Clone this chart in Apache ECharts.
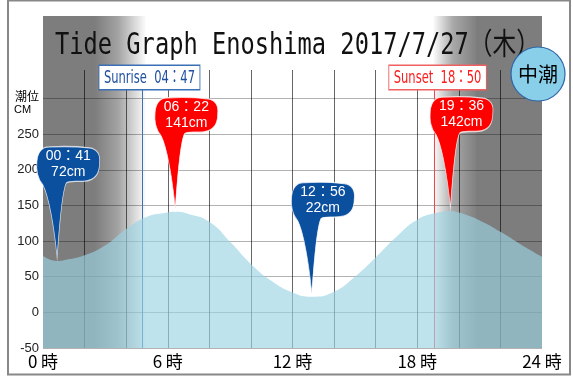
<!DOCTYPE html>
<html>
<head>
<meta charset="utf-8">
<title>Tide Graph Enoshima</title>
<script src="https://cdn.jsdelivr.net/npm/echarts@6/dist/echarts.min.js"></script>
<style>
  html, body { margin: 0; padding: 0; background: #fff; }
  #chart { width: 573px; height: 376px; }
</style>
</head>
<body>
<div id="chart"></div>
<script>
// tide curve (hour of day, cm)
const curveHours = [0, 0.683, 1, 2, 3, 4, 5, 6, 6.367, 7, 8, 9, 10, 11, 12, 12.933, 14, 15, 16, 17, 18, 19, 19.6, 20, 21, 22, 23, 24];
const curveLevels = [79, 72, 73, 80, 94, 117, 134, 140, 141, 138, 127, 99, 68, 44, 28, 22, 29, 50, 77, 106, 130, 140, 142, 140, 129, 113, 95, 78];

// high / low tide callouts
const extremeTimes = ['00:41', '06:22', '12:56', '19:36'];
const extremeLevels = [72, 141, 22, 142];
const extremeKinds = ['low', 'high', 'low', 'high'];

const sunrise = '04:47';
const sunset = '18:50';

const xTickHours = [0, 6, 12, 18, 24];
const xTickLabels = ['0 時', '6 時', '12 時', '18 時', '24 時'];
const yTickValues = [-50, 0, 50, 100, 150, 200, 250];

const titleText = 'Tide Graph Enoshima 2017/7/27（木）';
const tideName = '中潮';

const toHour = (s) => {
  const [h, m] = s.split(':').map(Number);
  return h + m / 60;
};
const wide = (s) => s.replace(':', '：');

const sunriseH = toHour(sunrise);
const sunsetH = toHour(sunset);

const GRAY = '#7d7d7d';
const grad = (from, mid, to) => new echarts.graphic.LinearGradient(0, 0, 1, 0, [
  { offset: 0, color: from },
  { offset: 0.45, color: mid },
  { offset: 1, color: to },
]);

const VLINE = 'rgba(0,0,0,0.6)';
const NONE = 'rgba(0,0,0,0)';
// first / last vertical line hidden (plot edges)
const vColors = [NONE, VLINE, VLINE, VLINE, VLINE, VLINE, VLINE, VLINE, VLINE, VLINE, VLINE, VLINE, NONE];

// 吹き出し (bubble + tail), tip at (20,110)
const bubblePath = 'path://M12 0 C28 -1 44 0 52 1 C60 2 63 8 62 16 C62 26 58 33 48 34 ' +
  'C40 35 32 33 29 36 C25 44 22 80 20 110 C17 80 12 50 6 38 C1 32 -1 24 0 14 C1 4 6 0 12 0 Z';

const chart = echarts.init(document.getElementById('chart'));

const options = {
  animation: false,
  backgroundColor: '#fff',
  grid: [
    { left: 43, right: 31, top: 16, bottom: 28 },
    { left: 43, right: 31, top: 70, bottom: 28 },
  ],
  xAxis: [
    { gridIndex: 0, type: 'value', min: 0, max: 24, show: false },
    {
      gridIndex: 1,
      type: 'value',
      min: 0,
      max: 24,
      interval: 2,
      zlevel: 1,
      axisLine: { show: false },
      axisTick: { show: false },
      splitLine: {
        show: true,
        lineStyle: { color: vColors, width: 1 },
      },
      axisLabel: {
        margin: 5,
        fontSize: 17,
        color: '#000',
        fontFamily: '"Noto Sans CJK JP"',
        formatter: (v) => {
          const i = xTickHours.indexOf(v);
          return i >= 0 ? xTickLabels[i] : '';
        },
      },
    },
  ],
  yAxis: [
    { gridIndex: 0, type: 'value', min: 0, max: 1, show: false },
    {
      gridIndex: 1,
      type: 'value',
      min: -50,
      max: 340,
      interval: 50,
      zlevel: 1,
      axisLine: { show: false },
      axisTick: { show: false },
      splitLine: {
        show: true,
        showMaxLine: false,
        lineStyle: { color: 'rgba(0,0,0,0.3)', width: 1 },
      },
      axisLabel: {
        margin: 4,
        fontSize: 13,
        color: '#222',
        fontFamily: '"Liberation Sans", Arial',
        formatter: (v) => {
          if (yTickValues.includes(v)) return String(v);
          if (v === 300) return '{u|潮位}\n{c|CM}';
          return '';
        },
        rich: {
          u: { fontSize: 12, lineHeight: 22, verticalAlign: 'bottom', color: '#000', fontFamily: '"Noto Sans CJK JP"' },
          c: { fontSize: 11, lineHeight: 14, color: '#000', width: 25, align: 'left', fontFamily: '"Liberation Sans"' },
        },
      },
    },
  ],
  series: [
    {
      // day / night background
      name: 'bg',
      type: 'line',
      xAxisIndex: 0,
      yAxisIndex: 0,
      data: [[0, 0]],
      symbol: 'none',
      silent: true,
      lineStyle: { opacity: 0 },
      zlevel: 0,
      markArea: {
        silent: true,
        zlevel: 0,
        itemStyle: { opacity: 1 },
        data: [
          [{ xAxis: 0, itemStyle: { color: GRAY } }, { xAxis: sunriseH - 2.2 }],
          [{ xAxis: sunriseH - 2.3, itemStyle: { color: grad(GRAY, '#a3a3a3', '#ffffff') } }, { xAxis: sunriseH + 0.2 }],
          [{ xAxis: sunsetH - 0.1, itemStyle: { color: grad('#ffffff', '#a8a8a8', GRAY) } }, { xAxis: sunsetH + 2.1 }],
          [{ xAxis: sunsetH + 2.0, itemStyle: { color: GRAY } }, { xAxis: 24 }],
        ],
      },
    },
    {
      name: '潮位',
      type: 'line',
      xAxisIndex: 1,
      yAxisIndex: 1,
      data: curveHours.map((h, i) => [h, curveLevels[i]]),
      smooth: 0.5,
      symbol: 'none',
      lineStyle: { width: 0 },
      areaStyle: { color: 'rgba(155,212,228,0.65)', origin: 'start', opacity: 1 },
      zlevel: 1,
      z: 2,
      markLine: {
        silent: true,
        zlevel: 1,
        z: 1,
        symbol: ['none', 'none'],
        label: { show: false },
        data: [
          [
            { coord: [sunriseH, -50], lineStyle: { color: '#3b6fb6', width: 1, type: 'solid' } },
            { coord: [sunriseH, 312] },
          ],
          [
            { coord: [sunsetH, -50], lineStyle: { color: '#f04848', width: 1, type: 'solid' } },
            { coord: [sunsetH, 312] },
          ],
        ],
      },
      markPoint: {
        zlevel: 1,
        z: 6,
        symbol: bubblePath,
        symbolSize: [63, 111],
        symbolOffset: [11, -59],
        symbolKeepAspect: false,
        itemStyle: { borderColor: 'rgba(255,255,255,0.75)', borderWidth: 1 },
        label: {
          show: true,
          position: 'inside',
          offset: [0, -38],
          color: '#fff',
          fontSize: 14,
          lineHeight: 16,
          fontFamily: '"Liberation Sans", Arial, "Noto Sans CJK JP"',
          formatter: (p) => p.name + '\n' + p.value + 'cm',
        },
        data: extremeTimes.map((t, i) => ({
          name: wide(t),
          value: extremeLevels[i],
          coord: [toHour(t), extremeLevels[i]],
          itemStyle: { color: extremeKinds[i] === 'high' ? '#ff0000' : '#0b4f9f' },
        })),
      },
    },
  ],
};

chart.setOption(options);

// sunrise / sunset boxes sit on top of their lines
const sunBox = (hour, shift, text, color, border) => {
  const px = chart.convertToPixel({ xAxisIndex: 1 }, hour);
  return {
    type: 'text',
    zlevel: 2,
    x: px + shift,
    y: 89,
    scaleX: 0.64,
    silent: true,
    style: {
      text: text,
      font: '18px "DejaVu Sans", "Noto Sans CJK JP"',
      fill: color,
      textAlign: 'center',
      textVerticalAlign: 'bottom',
      backgroundColor: '#fff',
      borderColor: border,
      borderWidth: 1.4,
      padding: [3, 7, 2, 7],
    },
  };
};

chart.setOption({
  graphic: [
    {
      type: 'rect',
      zlevel: 2,
      silent: true,
      shape: { x: 8, y: 0.5, width: 562, height: 374 },
      style: { fill: 'none', stroke: '#888', lineWidth: 2 },
    },
    {
      type: 'text',
      zlevel: 2,
      x: 55,
      y: 46,
      scaleX: 0.79,
      silent: true,
      style: {
        text: titleText,
        font: '30px "DejaVu Sans Mono", "Noto Sans CJK JP"',
        fill: '#111',
        textAlign: 'left',
        textVerticalAlign: 'middle',
      },
    },
    sunBox(sunriseH, 7, 'Sunrise  ' + wide(sunrise), '#1f4fa0', '#3b6fb6'),
    sunBox(sunsetH, 3, 'Sunset  ' + wide(sunset), '#ff1a1a', '#f06060'),
    {
      type: 'circle',
      zlevel: 2,
      silent: true,
      shape: { cx: 538, cy: 74, r: 27 },
      style: { fill: '#89cfe9', stroke: '#2f68a8', lineWidth: 1.2 },
    },
    {
      type: 'text',
      zlevel: 2,
      z: 1,
      x: 538,
      y: 74,
      silent: true,
      style: {
        text: tideName,
        font: '20px "Noto Sans CJK JP"',
        fill: '#000',
        textAlign: 'center',
        textVerticalAlign: 'middle',
      },
    },
  ],
});

window.addEventListener('resize', () => {
  chart.resize();
});
</script>
</body>
</html>
